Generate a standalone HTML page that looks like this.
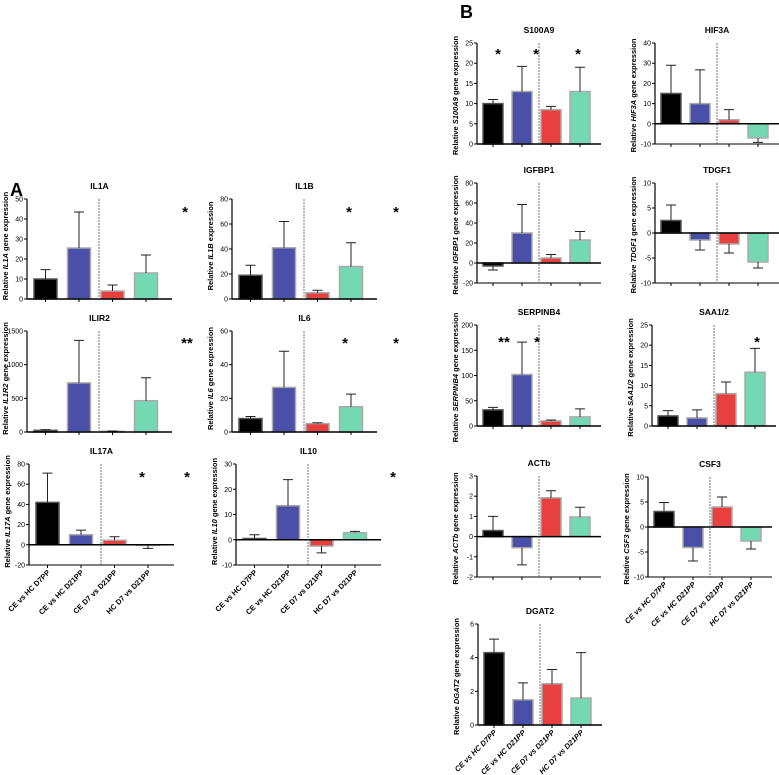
<!DOCTYPE html>
<html><head><meta charset="utf-8"><style>
body{margin:0;background:#fff;}
svg{display:block;font-family:"Liberation Sans",Arial,sans-serif;}
</style></head><body>
<svg id="fig" width="779" height="775" viewBox="0 0 779 775">
<text x="10" y="196" font-size="18" font-weight="bold">A</text>
<text x="460" y="18" font-size="18" font-weight="bold">B</text>
</svg>
<script>
const categories = ["CE vs HC D7PP","CE vs HC D21PP","CE D7 vs D21PP","HC D7 vs D21PP"];
const colors = ["#000000","#4a4fa8","#e8403f","#74d9b2"];
const valIL1A=[10,25.5,4,13], errIL1A=[14.7,43.5,7,22];
const valIL1B=[19,41,5,26], errIL1B=[27,62,7,45];
const valIL1R2=[25,730,10,465], errIL1R2=[35,1360,15,805];
const valIL6=[8,26.5,5,15], errIL6=[9.2,48,5.5,22.5];
const valIL17A=[42,10,4.5,-0.5], errIL17A=[71,14.5,8,-3.5];
const valIL10=[0.5,13.5,-2.5,2.8], errIL10=[2,23.8,-5.2,3.3];
const valS100A9=[10,13,8.5,13], errS100A9=[11,19.2,9.3,19];
const valHIF3A=[15,10,2,-7], errHIF3A=[29,26.7,7,-9.2];
const valIGFBP1=[-3,30,5,23], errIGFBP1=[-7,58.5,8.5,31.5];
const valTDGF1=[2.5,-1.4,-2.2,-5.8], errTDGF1=[5.6,-3.4,-4,-7];
const valSERPINB4=[32,102,10,18], errSERPINB4=[37,166,12,34];
const valSAA=[2.5,2,8,13.3], errSAA=[3.8,4,10.9,19.2];
const valACTB=[0.3,-0.55,1.92,0.97], errACTB=[1.0,-1.4,2.27,1.45];
const valCSF3=[3.1,-4.1,4,-2.8], errCSF3=[4.9,-6.8,6,-4.4];
const valDGAT2=[4.3,1.5,2.45,1.6], errDGAT2=[5.1,2.5,3.3,4.3];

const NS="http://www.w3.org/2000/svg";
const svg=document.getElementById('fig');
function mk(tag,attrs,parent){const e=document.createElementNS(NS,tag);for(const k in attrs)e.setAttribute(k,attrs[k]);(parent||svg).appendChild(e);return e;}

const panels=[
 {id:"il1a",t:"IL1A",g:"IL1A",pre:"Relative ",post:" gene expression",x0:27,top:199,bot:299,min:0,max:50,step:10,v:valIL1A,e:errIL1A,A:true,stars:[[185,217,"*"]]},
 {id:"il1b",t:"IL1B",g:"IL1B",pre:"Relative ",post:" expression",x0:232,top:199,bot:299,min:0,max:80,step:20,v:valIL1B,e:errIL1B,A:true,stars:[[349,217,"*"],[396,217,"*"]]},
 {id:"il1r2",t:"ILIR2",g:"IL1R2",pre:"Relative ",post:" gene expression",x0:27,top:331,bot:432,min:0,max:1500,step:500,v:valIL1R2,e:errIL1R2,A:true,stars:[[187,348,"**"]]},
 {id:"il6",t:"IL6",g:"IL6",pre:"Relative ",post:" gene expression",x0:232,top:331,bot:432,min:0,max:60,step:20,v:valIL6,e:errIL6,A:true,stars:[[345,348,"*"],[396,348,"*"]]},
 {id:"il17a",t:"IL17A",g:"IL17A",pre:"Relative ",post:" gene expression",x0:29,top:464,bot:565,min:-20,max:80,step:20,v:valIL17A,e:errIL17A,A:true,labels:true,stars:[[142,482,"*"],[187,482,"*"]]},
 {id:"il10",t:"IL10",g:"IL10",pre:"Relative ",post:" gene expression",x0:236,top:464,bot:565,min:-10,max:30,step:10,v:valIL10,e:errIL10,A:true,labels:true,stars:[[393,482,"*"]]},
 {id:"s100a9",t:"S100A9",g:"S100A9",pre:"Relative ",post:" gene expression",x0:477,top:43,bot:144,min:0,max:25,step:5,v:valS100A9,e:errS100A9,stars:[[498,59,"*"],[536,59,"*"],[578,59,"*"]]},
 {id:"hif3a",t:"HIF3A",g:"HIF3A",pre:"Relative ",post:" gene expression",x0:655,top:43,bot:144,min:-10,max:40,step:10,v:valHIF3A,e:errHIF3A,stars:[]},
 {id:"igfbp1",t:"IGFBP1",g:"IGFBP1",pre:"Relative ",post:" gene expression",x0:477,top:183,bot:283,min:-20,max:80,step:20,v:valIGFBP1,e:errIGFBP1,stars:[]},
 {id:"tdgf1",t:"TDGF1",g:"TDGF1",pre:"Relative ",post:" gene expression",x0:655,top:183,bot:283,min:-10,max:10,step:5,v:valTDGF1,e:errTDGF1,stars:[]},
 {id:"serpinb4",t:"SERPINB4",g:"SERPINB4",pre:"Relative ",post:" gene expression",x0:477,top:325,bot:426,min:0,max:200,step:50,v:valSERPINB4,e:errSERPINB4,stars:[[504,347,"**"],[537,347,"*"]]},
 {id:"saa",t:"SAA1/2",g:"SAA1/2",pre:"Relative ",post:" gene expression",x0:652,top:325,bot:426,min:0,max:25,step:5,v:valSAA,e:errSAA,stars:[[757,347,"*"]]},
 {id:"actb",t:"ACTb",g:"ACTb",pre:"Relative ",post:" gene expression",x0:477,top:476,bot:577,min:-2,max:3,step:1,v:valACTB,e:errACTB,stars:[]},
 {id:"csf3",t:"CSF3",g:"CSF3",pre:"Relative ",post:" gene expression",x0:648,top:477,bot:577,min:-10,max:10,step:5,v:valCSF3,e:errCSF3,labels:true,stars:[]},
 {id:"dgat2",t:"DGAT2",g:"DGAT2",pre:"Relative ",post:" gene expression",x0:478,top:624,bot:725,min:0,max:6,step:2,v:valDGAT2,e:errDGAT2,labels:true,stars:[]}
];

panels.forEach(p=>{
  const g=mk('g',{});
  
  
  const bw=p.A?23:20, off=p.A?7:6, sp=p.A?33.5:29, dash=p.A?72:62, w=p.A?145:124;
  const y=v=>p.bot-(v-p.min)/(p.max-p.min)*(p.bot-p.top);
  const bx=i=>p.x0+off+i*sp;
  const cx=i=>bx(i)+bw/2;
  const y0=y(0);
  const t=mk('text',{x:p.x0+w/2,y:p.top-10,'font-size':8.5,'font-weight':'bold','text-anchor':'middle'},g);
  t.textContent=p.t;
  
  
  const yt=mk('text',{x:0,y:0,'font-size':7.5,'font-weight':'bold','text-anchor':'middle',transform:`translate(${p.x0-19},${p.A?(p.top+p.bot)/2-3:(p.top+p.bot)/2+2}) rotate(-90)`},g);
  
  
  const s1=mk('tspan',{},yt);s1.textContent=p.pre;
  const s2=mk('tspan',{'font-style':'italic'},yt);s2.textContent=p.g;
  const s3=mk('tspan',{},yt);s3.textContent=p.post;
  p.v.forEach((v,i)=>{
    const yv=y(v);
    const r=mk('rect',{x:bx(i),y:Math.min(yv,y0),width:bw,height:Math.max(Math.abs(yv-y0),0.5),fill:colors[i],stroke:i==0?'#555':'#aaa','stroke-width':1.5},g);
    
    
    const ye=y(p.e[i]);
    const ln=mk('path',{d:`M${cx(i)},${yv}V${ye}M${cx(i)-5},${ye}H${cx(i)+5}`,stroke:'#222','stroke-width':1,fill:'none'},g);
    
    
  });
  const ax=mk('path',{d:`M${p.x0},${p.top}V${p.bot}`,stroke:'#000','stroke-width':1.2,fill:'none'},g);
  
  
  const xa=mk('path',{d:`M${p.x0},${y0}H${p.x0+w}`,stroke:'#000','stroke-width':1.5,fill:'none'},g);
  
  
  if(p.min<0){const bl=mk('path',{d:`M${p.x0},${p.bot}H${p.x0+w}`,stroke:'#000','stroke-width':1,fill:'none'},g);
    
    }
  for(let i=0;i<4;i++){mk('path',{d:`M${cx(i)},${p.bot}v3`,stroke:'#000','stroke-width':1},g);}
  for(let v=p.min;v<=p.max+1e-9;v+=p.step){
    mk('path',{d:`M${p.x0-3},${y(v)}H${p.x0}`,stroke:'#000','stroke-width':1},g);
    const tl=mk('text',{x:p.x0-4,y:y(v)+2.5,'font-size':7,'text-anchor':'end'},g);
    tl.textContent=String(Math.round(v*100)/100);
    
    
  }
  const dl=mk('path',{d:`M${p.x0+dash},${p.top}V${p.bot}`,stroke:'#555','stroke-width':0.8,'stroke-dasharray':'2,1',fill:'none'},g);
  
  
  p.stars.forEach(s=>{const st=mk('text',{x:s[0],y:s[1],'font-size':15,'font-weight':'bold','text-anchor':'middle'},g);
    st.textContent=s[2];
    
    });
  if(p.labels){
    categories.forEach((c,i)=>{
      const cl=mk('text',{x:0,y:0,'font-size':7.5,'font-weight':'bold','font-style':p.A?'normal':'italic','text-anchor':'end',transform:`translate(${cx(i)+3},${p.bot+8}) rotate(-45)`},g);
      cl.textContent=c;
      
      
    });
  }
});
</script>
</body></html>
